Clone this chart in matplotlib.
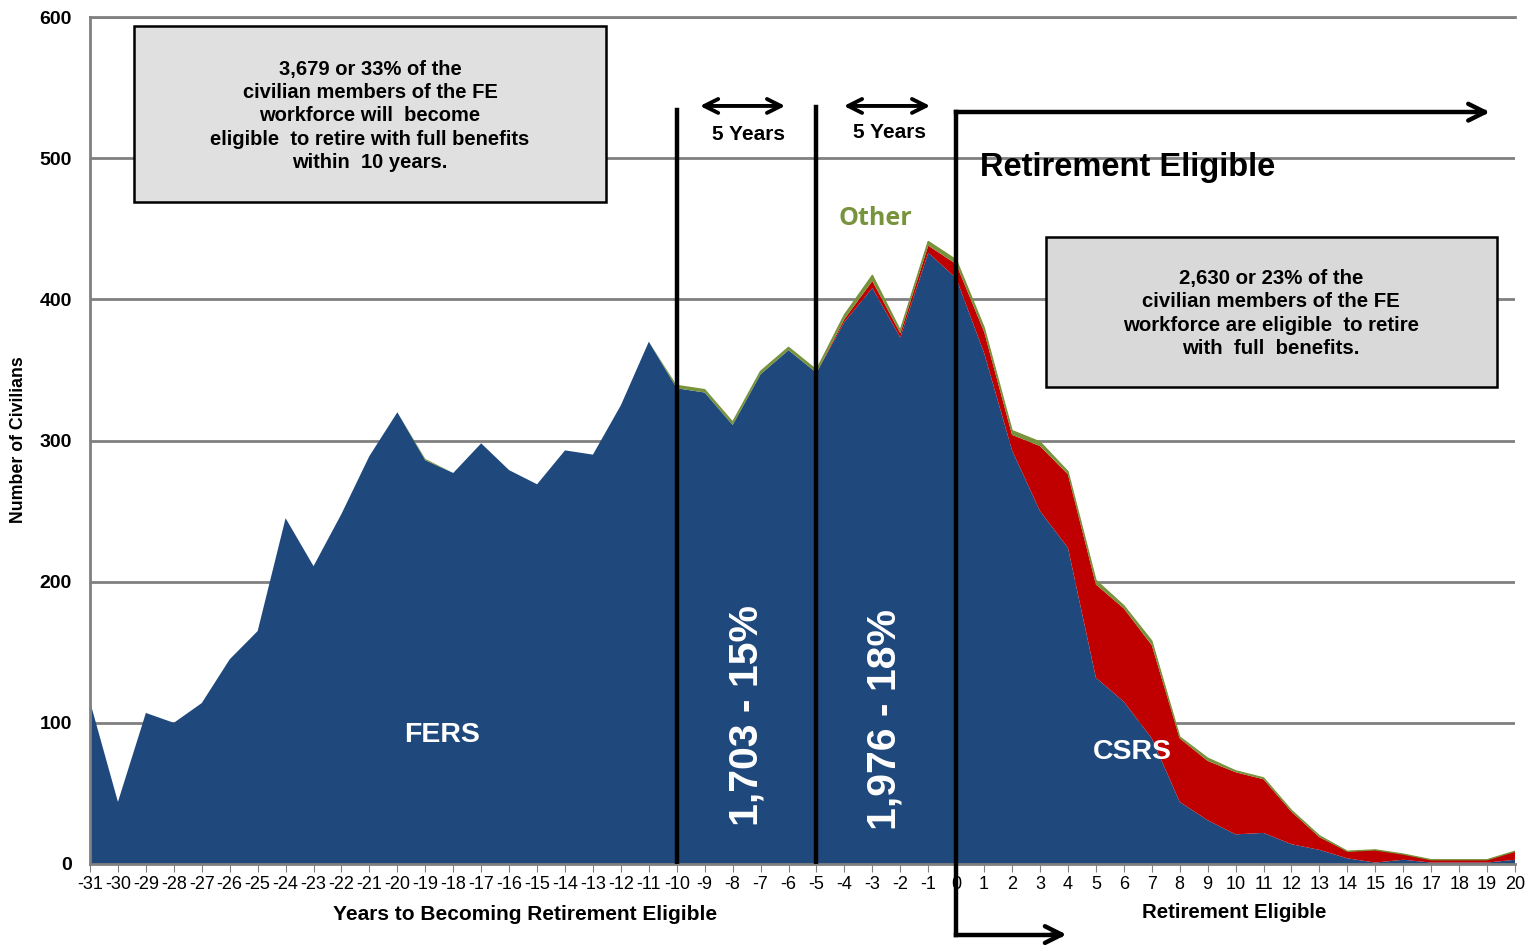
import matplotlib
matplotlib.use('Agg')
import matplotlib.pyplot as plt
from matplotlib.patches import Rectangle
import numpy as np

plt.rcParams['font.family'] = ['Liberation Sans', 'DejaVu Sans']

# years to becoming retirement eligible (negative) / years eligible (positive)
years = list(range(-31, 21))

fers = [115, 44, 107, 100, 114, 145, 165, 245, 211, 248,
        289, 320, 286, 277, 298, 279, 269, 293, 290, 325,
        370, 337, 334, 311, 347, 364, 348, 384, 408, 373,
        433, 415, 362, 293, 250, 224, 132, 115, 89, 44,
        31, 21, 22, 14, 10, 4, 1, 3, 1, 1,
        1, 3]
csrs = [0, 0, 0, 0, 0, 0, 0, 0, 0, 0,
        0, 0, 0, 0, 0, 0, 0, 0, 0, 0,
        0, 0, 0, 0, 0, 0, 0, 2, 5, 3,
        5, 10, 15, 11, 46, 52, 66, 66, 66, 45,
        42, 44, 38, 23, 9, 5, 9, 4, 2, 2,
        2, 6]
other = [0, 0, 0, 0, 0, 0, 0, 0, 0, 0,
         0, 0, 1, 0, 0, 0, 0, 0, 0, 0,
         0, 2, 2, 2, 2, 2, 2, 3, 4, 2,
         3, 3, 3, 3, 3, 2, 3, 2, 3, 1,
         2, 1, 1, 1, 1, 0, 0, 0, 0, 0,
         0, 0]

series_colors = ['#1F497D', '#C00000', '#77933C']
y_ticks = [0, 100, 200, 300, 400, 500, 600]
narrow = ['Liberation Sans Narrow', 'Liberation Sans']

fig = plt.figure(figsize=(15.28, 9.46), dpi=100)
ax = fig.add_axes([0.0589, 0.0867, 0.9326, 0.8953])

ax.stackplot(years, fers, csrs, other, colors=series_colors, zorder=2)

# thin outline of the "Other" band where it exists
total = np.array(fers) + np.array(csrs) + np.array(other)
edge = np.where(np.array(years) >= -10, total, np.nan)
ax.plot(years, edge, color='#77933C', lw=1.0, zorder=2)

ax.set_xlim(-31, 20)
ax.set_ylim(0, 600)
ax.set_yticks(y_ticks)
ax.set_xticks(years)
ax.set_xticklabels([str(v) for v in years], family=narrow, fontsize=13)
ax.set_yticklabels([str(v) for v in y_ticks], fontweight='bold', fontsize=14)
ax.tick_params(axis='x', length=6, color='#808080', pad=3, direction='out')
ax.tick_params(axis='y', length=0, pad=13)
ax.grid(axis='y', color='#808080', lw=2, zorder=1)
ax.set_axisbelow(True)
ax.spines['right'].set_visible(False)
for side in ['left', 'bottom', 'top']:
    ax.spines[side].set_color('#808080')
    ax.spines[side].set_linewidth(2)

# vertical separators
ax.plot([-10, -10], [0, 534], color='black', lw=3.2, zorder=5)
ax.plot([-5, -5], [0, 536], color='black', lw=3.2, zorder=5)
ax.plot([0, 0], [-50, 532.6], color='black', lw=3.2, zorder=5, clip_on=False)
ax.plot([0, 18.9], [532.6, 532.6], color='black', lw=3.2, zorder=5, clip_on=False)
ax.annotate('', xy=(19.2, 532.6), xytext=(18.5, 532.6),
            arrowprops=dict(arrowstyle='->', lw=3.2, color='black', mutation_scale=30),
            annotation_clip=False, zorder=6)
ax.plot([0, 3.7], [-50, -50], color='black', lw=3.2, zorder=5, clip_on=False)
ax.annotate('', xy=(4.05, -50), xytext=(3.3, -50),
            arrowprops=dict(arrowstyle='->', lw=3.2, color='black', mutation_scale=30),
            annotation_clip=False, zorder=6)

# five year arrows
for x0, x1 in [(-9.27, -6.02), (-4.12, -0.83)]:
    ax.annotate('', xy=(x1, 537), xytext=(x0, 537),
                arrowprops=dict(arrowstyle='<->', lw=2.8, color='black', mutation_scale=25),
                zorder=6)
ax.text(-7.45, 517, '5 Years', ha='center', va='center', fontsize=15, fontweight='bold',
        family=narrow, bbox=dict(facecolor='white', edgecolor='none', pad=1), zorder=6)
ax.text(-2.4, 518, '5 Years', ha='center', va='center', fontsize=15, fontweight='bold',
        family=narrow, zorder=6)

ax.text(0.85, 493.5, 'Retirement Eligible', ha='left', va='center', fontsize=23.5,
        fontweight='bold', zorder=6)
ax.text(-2.9, 457.5, 'Other', ha='center', va='center', fontsize=18,
        fontweight='bold', color='#77933C', family=['Open Sans', 'Liberation Sans'], zorder=6)
ax.text(-18.4, 91.5, 'FERS', ha='center', va='center', fontsize=20.5,
        fontweight='bold', color='white', zorder=6)
ax.text(6.3, 79, 'CSRS', ha='center', va='center', fontsize=20.5,
        fontweight='bold', color='white', zorder=6)
ax.text(-7.5, 105, '1,703 - 15%', ha='center', va='center', fontsize=29.5,
        fontweight='bold', color='white', rotation=90, zorder=6)
ax.text(-2.55, 102, '1,976 - 18%', ha='center', va='center', fontsize=29.5,
        fontweight='bold', color='white', rotation=90, zorder=6)

# annotation boxes
ax.add_patch(Rectangle((-29.43, 468.8), 16.9, 124.7, facecolor='#E0E0E0',
                       edgecolor='black', lw=1.8, zorder=4, clip_on=False))
ax.text(-20.98, 530,
        '3,679 or 33% of the\ncivilian members of the FE\nworkforce will  become\n'
        'eligible  to retire with full benefits\nwithin  10 years.',
        ha='center', va='center', fontsize=14.5, fontweight='bold', linespacing=1.28, zorder=5)
ax.add_patch(Rectangle((3.22, 337.8), 16.14, 106.2, facecolor='#D9D9D9',
                       edgecolor='black', lw=1.8, zorder=4))
ax.text(11.27, 390,
        '2,630 or 23% of the\ncivilian members of the FE\nworkforce are eligible  to retire\n'
        'with  full  benefits.',
        ha='center', va='center', fontsize=14.7, fontweight='bold', linespacing=1.3, zorder=5)

fig.text(0.3436, 0.0328, 'Years to Becoming Retirement Eligible', ha='center', va='center',
         fontsize=15, fontweight='bold', family=narrow)
fig.text(0.808, 0.0349, 'Retirement Eligible', ha='center', va='center',
         fontsize=14.7, fontweight='bold', family=narrow)
fig.text(0.0118, 0.535, 'Number of Civilians', ha='center', va='center', rotation=90,
         fontsize=12.8, fontweight='bold')

fig.savefig('out.png', dpi=100)
